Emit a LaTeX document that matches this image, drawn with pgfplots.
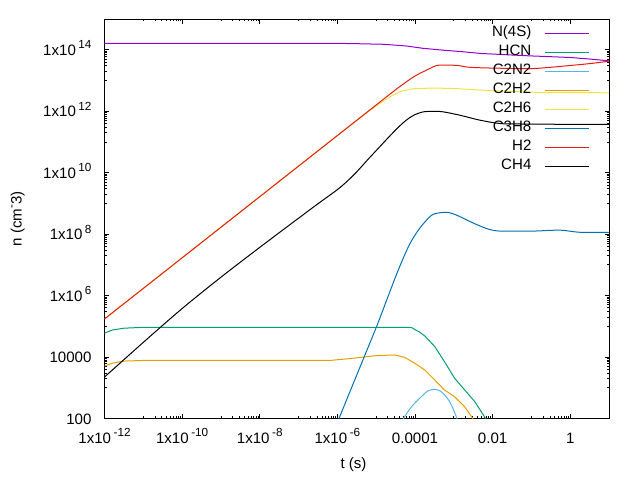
\documentclass[border=0pt]{standalone}
\usepackage{fontspec}
\setmainfont{Liberation Sans}
\usepackage{pgfplots}
\pgfplotsset{compat=1.18}
\newcommand\fs{\fontsize{11.3}{13}\selectfont}
\newcommand\supr[1]{\raisebox{0.44em}{\fontsize{8.8}{9}\selectfont #1}}
\newcommand\sci[1]{1x10\,\supr{#1}}
\definecolor{cN}{HTML}{9400D3}
\definecolor{cHCN}{HTML}{009E73}
\definecolor{cCNN}{HTML}{56B4E9}
\definecolor{cCCHH}{HTML}{E69F00}
\definecolor{cCCH6}{HTML}{F0E442}
\definecolor{cCCCH}{HTML}{0072B2}
\definecolor{cHH}{HTML}{E51E10}
\begin{document}
\begin{tikzpicture}
\useasboundingbox (0,0) rectangle (480pt,360pt);
\begin{axis}[
  at={(78.4pt,46.1pt)}, anchor=south west,
  scale only axis, width=378.4pt, height=299.6pt,
  xmode=log, ymode=log, xmin=1e-12, xmax=10, ymin=100, ymax=1e15,
  axis line style={line width=0.75pt},
  tick align=inside, major tick length=3.4pt, minor tick length=1.8pt,
  every tick/.style={black, line width=0.6pt},
  xtick={1e-12,1e-10,1e-8,1e-6,1e-4,1e-2,1},
  xticklabels={\sci{-12},\sci{-10},\sci{-8},\sci{-6},0.0001,0.01,1},
  minor xtick={1e-11,2e-11,3e-11,4e-11,5e-11,6e-11,7e-11,8e-11,9e-11,
    1e-9,2e-9,3e-9,4e-9,5e-9,6e-9,7e-9,8e-9,9e-9,
    1e-7,2e-7,3e-7,4e-7,5e-7,6e-7,7e-7,8e-7,9e-7,
    1e-5,2e-5,3e-5,4e-5,5e-5,6e-5,7e-5,8e-5,9e-5,
    1e-3,2e-3,3e-3,4e-3,5e-3,6e-3,7e-3,8e-3,9e-3,
    0.1,0.2,0.3,0.4,0.5,0.6,0.7,0.8,0.9},
  ytick={1e2,1e4,1e6,1e8,1e10,1e12,1e14},
  yticklabels={100,10000,\sci{6},\sci{8},\sci{10},\sci{12},\sci{14}},
  minor ytick={1e3,2e3,3e3,4e3,5e3,6e3,7e3,8e3,9e3,
    1e5,2e5,3e5,4e5,5e5,6e5,7e5,8e5,9e5,
    1e7,2e7,3e7,4e7,5e7,6e7,7e7,8e7,9e7,
    1e9,2e9,3e9,4e9,5e9,6e9,7e9,8e9,9e9,
    1e11,2e11,3e11,4e11,5e11,6e11,7e11,8e11,9e11,
    1e13,2e13,3e13,4e13,5e13,6e13,7e13,8e13,9e13},
  xticklabel style={font=\fs, anchor=base, inner sep=0pt, yshift=-18.6pt},
  yticklabel style={font=\fs, anchor=base east, inner sep=0pt, xshift=-9.6pt, yshift=-4.3pt},
  xlabel={t (s)}, ylabel={n (cm\supr{-}3)},
  every axis x label/.style={at={(axis description cs:0.4935,-0.1164)}, anchor=center, font=\fs},
  every axis y label/.style={at={(axis description cs:-0.1719,0.4994)}, anchor=center, rotate=90, font=\fs},
  every axis plot/.append style={line width=0.75pt, no markers},
  legend plot pos=right,
  legend cell align=right,
  legend image code/.code={\draw[#1, line width=0.75pt] (0pt,0pt) -- (33pt,0pt);},
  legend style={at={(axis description cs:0.961,0.9825)}, anchor=north east,
    draw=none, fill=none, inner sep=0pt, outer sep=0pt,
    row sep=3.75pt, column sep=9.75pt, font=\fs,
    nodes={inner sep=0pt, text height=8.1pt, text depth=2.4pt}},
]
\addplot[cN] coordinates {(1e-12,1.62e14) (1e-6,1.62e14) (3.16e-6,1.58e14) (1.58e-5,1.51e14)
 (6.31e-5,1.32e14) (1.58e-4,1.12e14) (5.01e-4,9.77e13) (1.58e-3,8.71e13) (5.01e-3,7.59e13)
 (0.0316,6.76e13) (0.1,6.31e13) (1,5.62e13) (3.16,5.01e13) (10,4.37e13)};
\addlegendentry{N(4S)}
\addplot[cHCN] coordinates {(1e-12,6.03e4) (1.58e-12,7.59e4) (3.16e-12,8.71e4) (1e-11,9.29e4)
 (7.29e-5,9.29e4) (8.51e-5,8.91e4) (9.82e-5,7.94e4) (1.32e-4,6.46e4) (1.78e-4,4.90e4)
 (3.24e-4,2.19e4) (5.75e-4,7.08e3)
 (1.05e-3,2.04e3) (1.91e-3,851) (3.47e-3,355) (6.17e-3,115) (1.26e-2,30)};
\addlegendentry{HCN}
\addplot[cCNN, smooth, tension=0.5] coordinates {(3.55e-5,31.6) (4.90e-5,93) (8.13e-5,240) (1.32e-4,457) (2.16e-4,794)
 (3.24e-4,891) (4.79e-4,741) (7.82e-4,355) (1.23e-3,93) (1.51e-3,31.6)};
\addlegendentry{C2N2}
\addplot[cCCHH] coordinates {(1e-12,5.13e3) (1.58e-12,6.31e3) (3.16e-12,7.41e3) (1e-11,7.76e3)
 (6.31e-7,7.76e3) (2.09e-6,8.91e3) (1.02e-5,1.12e4) (3.0e-5,1.17e4) (5.43e-5,9.77e3)
 (9.82e-5,6.31e3) (1.78e-4,3.80e3) (3.24e-4,1.78e3) (5.75e-4,851) (1.05e-3,513)
 (1.91e-3,240) (3.09e-3,100) (3.98e-3,40)};
\addlegendentry{C2H2}
\addplot[cCCH6, smooth, tension=0.5] coordinates {(1e-12,1.74e5) (1e-9,1.68e8) (1e-6,1.62e11)
 (3.16e-6,5.01e11) (5.01e-6,7.94e11)
 (1.23e-5,1.78e12) (3.31e-5,3.80e12) (6.03e-5,4.90e12) (1.10e-4,5.50e12) (3.16e-4,5.62e12)
 (9.55e-4,5.50e12) (4.68e-3,4.90e12) (1.55e-2,4.57e12) (0.11,4.17e12) (1,4.07e12) (10,3.98e12)};
\addlegendentry{C2H6}
\addplot[cCCCH, smooth, tension=0.5] coordinates {(5.01e-7,8.7) (1.10e-6,100) (3.16e-6,2.63e3)
 (9.77e-6,8.51e4) (1.51e-5,3.55e5)
 (2.24e-5,1.32e6) (3.31e-5,4.79e6) (4.90e-5,1.58e7) (7.24e-5,4.68e7) (1.10e-4,1.12e8)
 (1.62e-4,2.14e8) (2.88e-4,4.37e8) (6.46e-4,5.13e8) (1.17e-3,4.17e8) (2.24e-3,2.82e8)
 (4.27e-3,1.95e8) (7.94e-3,1.45e8)
 (1.55e-2,1.26e8) (0.11,1.26e8) (0.55,1.35e8) (1.78,1.15e8) (10,1.15e8)};
\addlegendentry{C3H8}
\addplot[cHH, smooth, tension=0.5] coordinates {(1e-12,1.74e5) (1e-9,1.68e8) (1e-6,1.62e11)
 (1e-5,1.60e12) (3.16e-5,5.01e12) (6.03e-5,9.12e12) (1e-4,1.41e13) (1.32e-4,1.70e13)
 (2.40e-4,2.45e13) (3.63e-4,3.09e13) (6.31e-4,3.16e13)
 (1.29e-3,3.09e13) (2.57e-3,2.69e13) (1.55e-2,2.51e13) (0.11,2.45e13) (0.83,3.02e13)
 (3.16,3.55e13) (10,4.27e13)};
\addlegendentry{H2}
\addplot[black, smooth, tension=0.5] coordinates {(1e-12,2.24e3) (1e-11,3.02e4) (1e-10,3.80e5)
 (1e-9,3.98e6) (1e-8,3.72e7) (1e-7,3.31e8) (3.16e-7,9.77e8) (1e-6,2.82e9) (1.78e-6,5.25e9)
 (3.16e-6,1.07e10) (5.62e-6,2.40e10) (1e-5,5.25e10) (1.78e-5,1.15e11) (3.16e-5,2.45e11)
 (4.90e-5,4.17e11) (7.08e-5,6.03e11) (1e-4,7.76e11) (1.62e-4,9.55e11) (3.16e-4,1.0e12)
 (5.37e-4,9.55e11) (1.45e-3,7.41e11)
 (4.68e-3,5.13e11) (1.55e-2,3.98e11) (0.0501,3.85e11) (0.11,3.80e11) (1,3.76e11) (10,3.72e11)};
\addlegendentry{CH4}
\end{axis}
\end{tikzpicture}
\end{document}
